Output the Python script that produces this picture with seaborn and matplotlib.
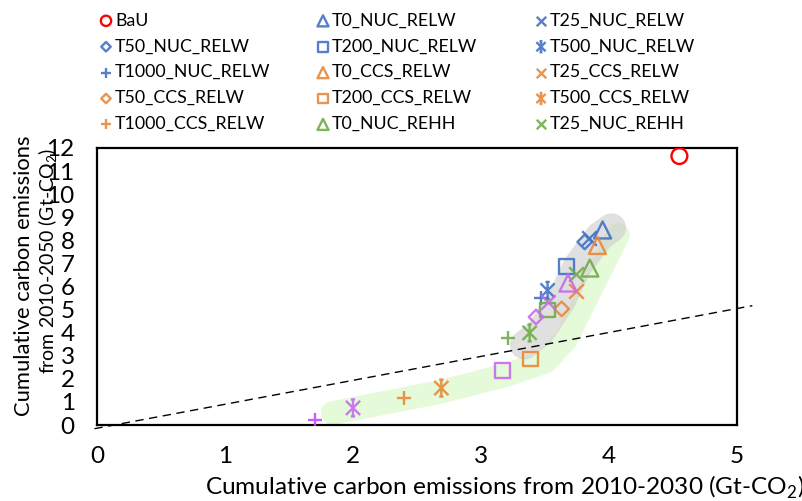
import numpy as np
import pandas as pd
import matplotlib
matplotlib.use("Agg")
import matplotlib.pyplot as plt
from matplotlib.path import Path
import seaborn as sns

# ---- scenario results: cumulative emissions (Gt-CO2) ----
names = ["BaU", "T0_NUC_RELW", "T25_NUC_RELW",
         "T50_NUC_RELW", "T200_NUC_RELW", "T500_NUC_RELW",
         "T1000_NUC_RELW", "T0_CCS_RELW", "T25_CCS_RELW",
         "T50_CCS_RELW", "T200_CCS_RELW", "T500_CCS_RELW",
         "T1000_CCS_RELW", "T0_NUC_REHH", "T25_NUC_REHH",
         "T200_NUC_REHH", "T500_NUC_REHH", "T1000_NUC_REHH",
         "T0_CCS_REHH", "T25_CCS_REHH", "T50_CCS_REHH",
         "T200_CCS_REHH", "T500_CCS_REHH", "T1000_CCS_REHH"]
em_2030 = [4.55, 3.95, 3.84,
           3.81, 3.67, 3.52,
           3.47, 3.91, 3.74,
           3.63, 3.39, 2.69,
           2.40, 3.85, 3.74,
           3.52, 3.38, 3.21,
           3.68, 3.52, 3.43,
           3.17, 2.00, 1.70]
em_2050 = [11.65, 8.45, 8.12,
           7.93, 6.85, 5.83,
           5.50, 7.78, 5.79,
           5.03, 2.86, 1.60,
           1.17, 6.80, 6.52,
           4.98, 3.99, 3.77,
           6.15, 5.33, 4.68,
           2.38, 0.74, 0.22]
n_legend = 15

# ---- styling per scenario ----
RED, BLUE, ORANGE, GREEN, PURPLE = "#FF0000", "#4472C4", "#E8893A", "#70AD47", "#C76BEB"
colors = [RED, BLUE, BLUE,
          BLUE, BLUE, BLUE,
          BLUE, ORANGE, ORANGE,
          ORANGE, ORANGE, ORANGE,
          ORANGE, GREEN, GREEN,
          GREEN, GREEN, GREEN,
          PURPLE, PURPLE, PURPLE,
          PURPLE, PURPLE, "#CC44FF"]

# six-spoke asterisk marker (x plus a vertical bar with short caps)
star_verts = [(-1, -1), (1, 1), (-1, 1), (1, -1), (0, -1.2), (0, 1.2),
              (-0.3, 1.2), (0.3, 1.2), (-0.3, -1.2), (0.3, -1.2)]
star_codes = [Path.MOVETO, Path.LINETO] * 5
STAR = Path(star_verts, star_codes)

kinds = ["o", "^", "x",
         "D", "s", "star",
         "+", "^", "x",
         "D", "s", "star",
         "+", "^", "x",
         "s", "star", "+",
         "^", "x", "D",
         "s", "star", "+"]
marker_map = {"o": ("o", 130), "^": ("^", 150), "x": ("x", 110), "D": ("D", 55),
              "s": ("s", 115), "star": (STAR, 150), "+": ("+", 110)}

# hand-drawn highlight bands (centre lines)
band_green_x = [1.84, 2.68, 3.20, 3.50, 3.66, 3.855, 4.07]
band_green_y = [0.52, 1.43, 2.17, 2.73, 3.68, 5.85, 8.23]
band_grey_x = [3.34, 3.46, 3.63, 3.75, 3.93, 4.02]
band_grey_y = [3.47, 3.99, 5.42, 6.85, 8.19, 8.54]

# dashed reference line
ref_x = [-0.02, 5.12]
ref_y = [-0.16, 5.17]

x_ticks = [0, 1, 2, 3, 4, 5]
y_ticks = list(range(0, 13))

x_title = "Cumulative carbon emissions from 2010-2030 (Gt-CO$_2$)"
y_title_1 = "Cumulative carbon emissions"
y_title_2 = "from 2010-2050 (Gt-CO$_2$)"

sns.set_theme(style="white")
plt.rcParams["font.family"] = ["Lato", "DejaVu Sans"]
plt.rcParams["mathtext.fontset"] = "custom"
plt.rcParams["mathtext.rm"] = "Lato"

fig = plt.figure(figsize=(8.02, 5.01), dpi=100)
W, H = 802, 501
PX = 100 / 72  # pixels per point
renderer = fig.canvas.get_renderer()


def size_for_width(s, width_px, base=20.0):
    """Font size (pt) at which text s spans width_px pixels."""
    t = fig.text(0, 0, s, fontsize=base)
    w = t.get_window_extent(renderer).width
    t.remove()
    return base * width_px / w


ax = fig.add_axes([97 / W, 1 - 425 / H, 640 / W, 277 / H])

# bands
ax.plot(band_green_x, band_green_y, color="#E4FAD8", lw=17,
        solid_capstyle="round", solid_joinstyle="round", zorder=1)
ax.plot(band_grey_x, band_grey_y, color="#CCCCCC", alpha=0.6, lw=21,
        solid_capstyle="round", solid_joinstyle="round", zorder=1.5)

# reference line
ax.plot(ref_x, ref_y, color="black", lw=1.0, dashes=(6, 4), clip_on=False, zorder=2)

df = pd.DataFrame({"scenario": names, "e2030": em_2030, "e2050": em_2050,
                   "color": colors, "kind": kinds})

for i, row in df.iterrows():
    mk, size = marker_map[row["kind"]]
    line_art = row["kind"] in ("x", "+")
    sns.scatterplot(x=[row["e2030"]], y=[row["e2050"]], ax=ax, marker=mk, s=size,
                    color=row["color"],
                    facecolor=row["color"] if line_art else "none",
                    edgecolor=None if line_art else row["color"],
                    linewidth=1.7, alpha=0.9 if i else 1.0, zorder=3 + i * 0.01,
                    label=row["scenario"] if i < n_legend else None, legend=False)

ax.set_xlim(0, 5)
ax.set_ylim(0, 12)
ax.set_xticks(x_ticks)
ax.set_yticks(y_ticks)
ax.tick_params(axis="both", direction="out", length=6, width=1.5, color="black",
               labelsize=17.5, labelcolor="black")
ax.tick_params(axis="x", pad=9)
ax.tick_params(axis="y", pad=10)
for sp in ax.spines.values():
    sp.set_visible(True)
    sp.set_color("black")
    sp.set_linewidth(1.6)

ax.set_xlabel("")
ax.set_ylabel("")
fig.text(205 / W, 1 - 487 / H, x_title, ha="left", va="center",
         fontsize=size_for_width(x_title, 598), color="black")
fig.text(24 / W, 1 - 276 / H, y_title_1, rotation=90, ha="center", va="center",
         fontsize=size_for_width(y_title_1, 282), color="black")
fig.text(48 / W, 1 - 261 / H, y_title_2, rotation=90, ha="center", va="center",
         fontsize=size_for_width(y_title_2, 225), color="black")

# legend: three columns placed side by side
leg_fs = size_for_width("T1000_NUC_RELW", 155)
fs_px = leg_fs * PX
row_px = 26.4
spacing = (row_px - 0.93 * fs_px) / fs_px
hl = 0.8
pad = (9.0 - hl * fs_px / 2) / fs_px
marker_cx = [106, 323, 541]

handles, labels = ax.get_legend_handles_labels()
for c in range(3):
    hs = handles[c::3]
    ls = labels[c::3]
    left = marker_cx[c] - hl * fs_px / 2
    leg = fig.legend(hs, ls, loc="upper left", bbox_to_anchor=(left / W, 1 - 12.5 / H),
                     frameon=False, fontsize=leg_fs, handlelength=hl, handletextpad=pad,
                     labelspacing=spacing, borderpad=0, borderaxespad=0, markerscale=0.65)
    for t in leg.get_texts():
        t.set_color("black")

fig.savefig("out.png", dpi=100)
